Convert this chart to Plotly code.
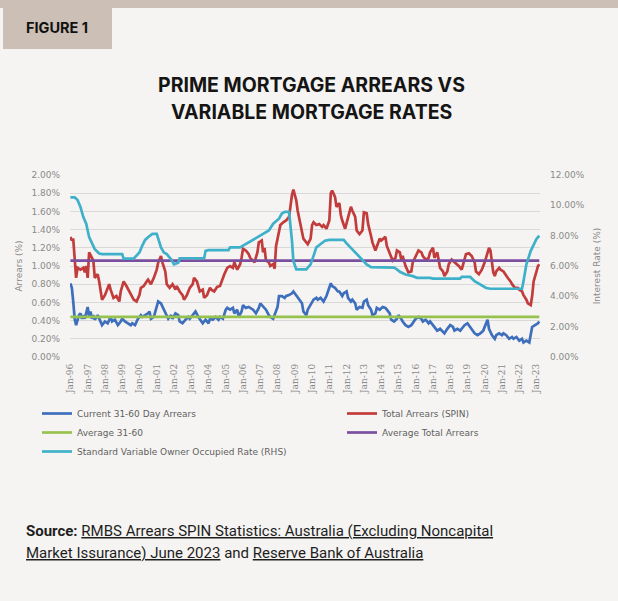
import pandas as pd
import plotly.graph_objects as go

# ---------------------------------------------------------------------------
# Data: months elapsed since January 1996, with the matching readings
# ---------------------------------------------------------------------------
current_months = [
    0, 1, 2, 3, 4, 6, 7, 8, 9, 10, 12, 13, 14, 15, 16, 17, 19, 21, 22, 24, 26, 28, 29, 31, 33,
    35, 36, 38, 40, 42, 43, 45, 47, 49, 50, 52, 54, 55, 56, 58, 60, 61, 63, 65, 67, 68, 70, 71,
    73, 75, 76, 78, 80, 82, 83, 85, 87, 89, 90, 92, 94, 96, 97, 99, 101, 103, 104, 106, 108,
    109, 111, 113, 114, 116, 117, 119, 120, 122, 124, 125, 127, 129, 131, 132, 134, 136, 138,
    139, 141, 142, 144, 145, 147, 149, 150, 152, 154, 155, 157, 159, 161, 162, 164, 165, 167,
    169, 171, 172, 174, 176, 178, 179, 181, 182, 184, 186, 187, 189, 190, 192, 193, 195, 196,
    198, 199, 201, 203, 204, 206, 207, 209, 210, 212, 213, 215, 217, 219,
    220, 222, 223, 225, 227, 228, 230, 231, 233, 235, 237, 238, 240, 242, 244, 245, 247, 249,
    250, 252, 253, 255, 257, 259, 260, 262, 264, 266, 267, 269, 271, 273, 274, 276, 278, 280,
    281, 283, 285, 287, 288, 290, 291, 293, 295, 296, 298, 300, 301, 303, 305, 307, 308, 310,
    312, 314, 315, 317, 319, 320, 321, 323, 325, 326,
]
current_arrears = [
    0.81, 0.76, 0.61, 0.42, 0.35, 0.46, 0.48, 0.42, 0.46, 0.42, 0.55, 0.44, 0.50, 0.42, 0.46,
    0.41, 0.46, 0.39, 0.35, 0.39, 0.37, 0.44, 0.39, 0.41, 0.35, 0.39, 0.42, 0.39, 0.37, 0.35,
    0.37, 0.35, 0.42, 0.46, 0.44, 0.46, 0.48, 0.50, 0.42, 0.44, 0.55, 0.61, 0.59, 0.52, 0.44,
    0.42, 0.46, 0.42, 0.48, 0.46, 0.39, 0.37, 0.41, 0.44, 0.42, 0.46, 0.50, 0.44, 0.42, 0.37,
    0.41, 0.37, 0.42, 0.41, 0.44, 0.41, 0.44, 0.42, 0.52,
    0.54, 0.52, 0.54, 0.48, 0.52, 0.44, 0.50, 0.57, 0.54, 0.55, 0.54, 0.52, 0.48, 0.54, 0.59,
    0.55, 0.52, 0.46, 0.44, 0.42, 0.46, 0.55, 0.67, 0.67, 0.65, 0.67, 0.68, 0.70, 0.72, 0.68,
    0.63, 0.59, 0.50, 0.46, 0.52, 0.57, 0.63, 0.65, 0.63, 0.65, 0.61, 0.67, 0.72, 0.81, 0.78,
    0.76, 0.72, 0.72, 0.67, 0.70, 0.72, 0.65, 0.61, 0.63, 0.59, 0.52, 0.55, 0.54, 0.61, 0.63,
    0.57, 0.52, 0.46, 0.48, 0.54, 0.52, 0.55, 0.54,
    0.52, 0.48, 0.41, 0.39, 0.42, 0.46, 0.42, 0.39, 0.35, 0.33, 0.35, 0.37, 0.42, 0.44, 0.42,
    0.39, 0.41, 0.37, 0.39, 0.35, 0.33, 0.29, 0.31, 0.28, 0.26, 0.31, 0.35, 0.33, 0.29, 0.31,
    0.29, 0.33, 0.35, 0.37, 0.33, 0.28, 0.26, 0.24, 0.26, 0.29, 0.33, 0.41, 0.31, 0.24, 0.20,
    0.24, 0.26, 0.24, 0.26, 0.24, 0.20, 0.22, 0.20, 0.22, 0.18, 0.20, 0.16, 0.18, 0.16, 0.24,
    0.33, 0.35, 0.37, 0.39,
]

total_months = [
    0, 1, 2, 3, 4, 5, 7, 9, 10, 11, 12, 13, 15, 16, 17, 19, 20, 21, 22, 24, 25, 27, 28, 30, 32,
    34, 35, 37, 39, 41, 42, 44, 46, 48, 49, 51, 53, 54, 56, 58, 60, 61, 63, 64, 66, 67, 69, 71,
    73, 74, 76, 78, 79, 81, 83, 85, 86, 88, 90, 92, 93, 95, 97, 98, 100, 102, 104, 105, 107, 109,
    111, 113, 114, 116, 118, 119, 120, 122, 124, 125, 127, 128, 130, 131, 133, 134, 135, 136,
    138, 139, 141, 142, 143, 145, 146, 148, 150, 152, 153, 154, 155, 157, 158, 160, 162, 164,
    165, 167, 168, 169, 171, 173, 175, 176, 178, 180, 181, 182, 184, 185, 187, 188, 189, 191,
    192, 193, 195, 196, 198, 199, 201, 203, 204, 206, 207, 209, 210, 212, 213, 215, 216, 218,
    219, 220, 222, 224, 226, 227, 229, 230, 231, 233, 235, 237, 238, 240, 242, 244, 245, 247,
    249, 250, 252, 253, 255, 256, 257, 259, 260, 262, 263, 265, 267, 269, 270, 272, 274, 275,
    277, 279, 281, 282, 284, 286, 288, 289, 291, 292, 293, 294, 295, 296, 298, 299, 301, 303,
    304, 306, 307, 309, 311, 312, 314, 315, 317, 318, 320, 321, 322, 324, 325, 326,
]
total_arrears = [
    1.32, 1.28, 1.30, 1.09, 0.87, 0.98, 0.96, 0.98, 0.93, 1.00, 0.87, 1.15, 1.09, 1.06, 0.87,
    0.91, 0.83, 0.72, 0.63, 0.68, 0.72, 0.80, 0.74, 0.65, 0.67, 0.61, 0.72, 0.83, 0.78, 0.72,
    0.68, 0.63, 0.61, 0.68, 0.76, 0.78, 0.83, 0.85, 0.80, 0.87, 0.96, 1.04, 1.11, 1.04, 0.94,
    0.80, 0.76, 0.80, 0.74, 0.78, 0.72, 0.68, 0.63, 0.68, 0.76, 0.80, 0.87, 0.83, 0.72, 0.74,
    0.65, 0.68, 0.76, 0.74, 0.72, 0.77, 0.78, 0.83, 0.91, 0.98,
    1.00, 0.98, 1.04, 0.96, 1.02, 1.09, 1.19, 1.17, 1.13, 1.09, 1.06, 1.04, 1.15, 1.26, 1.28,
    1.15, 1.20, 1.06, 1.04, 1.00, 1.02, 0.97, 1.22, 1.39, 1.45, 1.48, 1.50, 1.54, 1.67, 1.78,
    1.84, 1.72, 1.61, 1.45, 1.30, 1.26, 1.24, 1.30, 1.45, 1.48, 1.45, 1.46, 1.43, 1.45, 1.41,
    1.50, 1.80, 1.83, 1.76, 1.65, 1.69, 1.56, 1.50, 1.41, 1.48, 1.54, 1.65, 1.61, 1.54, 1.39,
    1.35, 1.39, 1.59, 1.58, 1.46, 1.33, 1.26, 1.17, 1.22, 1.30, 1.28, 1.30,
    1.32, 1.22, 1.15, 1.06, 1.09, 1.17, 1.15, 1.07, 1.11, 1.00, 0.93, 0.94, 1.04, 1.11, 1.17,
    1.15, 1.11, 1.07, 1.09, 1.15, 1.20, 1.09, 1.15, 1.07, 0.98, 0.94, 0.89, 0.94, 1.02, 1.07,
    1.04, 1.02, 1.00, 0.96, 1.06, 1.13, 1.14, 1.11, 1.04, 0.94, 0.91, 0.96, 1.04, 1.09, 1.20,
    1.17, 1.02, 0.93, 0.89, 0.94, 0.98, 0.96, 0.94, 0.89, 0.87, 0.83, 0.80, 0.76, 0.76, 0.74,
    0.72, 0.68, 0.63, 0.59, 0.57, 0.67, 0.83, 0.94, 1.00, 1.02,
]

# Average lines (%)
average_31_60 = 0.44
average_total = 1.06

svr_months = [
    0, 3, 5, 7, 9, 11, 13, 15, 17, 20, 22, 36, 37, 44, 45, 48, 50, 52, 54, 57, 60, 61, 63, 65,
    67, 70, 72, 75, 76, 93, 94, 96, 110, 111, 118, 120, 124, 127, 131, 134, 138, 141, 145, 147,
    149, 152, 153, 154, 155, 157, 164, 167, 169, 171, 174, 177, 180, 190, 192, 196, 199, 203,
    206, 209, 219, 225, 227, 229, 233, 236, 238, 241, 250, 252, 271, 272, 278, 281, 285, 289,
    292, 314, 315, 317, 320, 322, 324, 326,
]
svr_rate = [
    10.53, 10.53, 10.35, 9.90, 9.23, 8.79, 7.90, 7.45, 7.11, 6.82, 6.78, 6.78, 6.49, 6.49, 6.60,
    6.89, 7.34, 7.72, 7.90, 8.12, 8.12, 7.78, 7.23, 6.89, 6.78, 6.44, 6.11, 6.22, 6.51, 6.51,
    7.00, 7.05, 7.05, 7.23, 7.23, 7.34, 7.56, 7.78, 8.00, 8.16, 8.34, 8.79, 9.12, 9.46, 9.57,
    9.57, 8.79, 7.67, 6.33, 5.78, 5.78, 6.11, 6.67, 7.23, 7.45, 7.67, 7.72, 7.72, 7.49, 7.11,
    6.78, 6.44, 6.11, 5.93, 5.93, 5.89, 5.78, 5.62, 5.44, 5.40, 5.33, 5.22, 5.22, 5.17, 5.17,
    5.28, 5.28, 5.00, 4.77, 4.55, 4.50, 4.50, 5.00, 6.11, 7.00, 7.34, 7.78, 8.00,
]

arrears_ticks = [0, 0.2, 0.4, 0.6, 0.8, 1.0, 1.2, 1.4, 1.6, 1.8, 2.0]
rate_ticks = [0, 2, 4, 6, 8, 10, 12]


def to_dates(months):
    return [pd.Timestamp(1996 + m // 12, m % 12 + 1, 1) for m in months]


def pct_labels(values):
    return [f"{v:.2f}%" for v in values]


first_month = min(current_months + total_months + svr_months)
last_month = max(current_months + total_months + svr_months)
span_dates = to_dates([first_month, last_month])

# ---------------------------------------------------------------------------
# Styling
# ---------------------------------------------------------------------------
W, H = 618, 601
M_L, M_R, M_T, M_B = 70, 78, 175, 244
PLOT_W = W - M_L - M_R
PLOT_H = H - M_T - M_B

BG = "#f5f4f2"
TAN = "#cbbfb6"
GRID = "#d9d9d9"
TICK = "#8a8a8a"
LEGEND_TXT = "#5f5f5f"

BLUE = "#3d6fbd"
RED = "#c13c3b"
GREEN = "#98c24f"
PURPLE = "#7a4f9f"
CYAN = "#3fb0c9"
LW = 2.7


def px_x(px):
    return (px - M_L) / PLOT_W


def px_y(py):
    return (H - M_B - py) / PLOT_H


fig = go.Figure()

# Cyan first so the arrears series sit above it in the legend's right column order
fig.add_trace(go.Scatter(
    x=to_dates(current_months), y=current_arrears, mode="lines",
    name="Current 31-60 Day Arrears", line=dict(color=BLUE, width=LW),
    legend="legend", legendgroup="g1",
))
fig.add_trace(go.Scatter(
    x=to_dates(total_months), y=total_arrears, mode="lines",
    name="Total Arrears (SPIN)", line=dict(color=RED, width=LW),
    legend="legend2", legendgroup="g2",
))
fig.add_trace(go.Scatter(
    x=span_dates, y=[average_31_60, average_31_60], mode="lines",
    name="Average 31-60", line=dict(color=GREEN, width=LW),
    legend="legend", legendgroup="g3",
))
fig.add_trace(go.Scatter(
    x=span_dates, y=[average_total, average_total], mode="lines",
    name="Average Total Arrears", line=dict(color=PURPLE, width=LW),
    legend="legend2", legendgroup="g4",
))
fig.add_trace(go.Scatter(
    x=to_dates(svr_months), y=svr_rate, mode="lines", yaxis="y2",
    name="Standard Variable Owner Occupied Rate (RHS)", line=dict(color=CYAN, width=LW),
    legend="legend", legendgroup="g5",
))

tick_font = dict(family="DejaVu Sans", size=9, color=TICK)
legend_style = dict(
    orientation="v", xanchor="left", yanchor="top",
    font=dict(family="DejaVu Sans", size=9, color=LEGEND_TXT),
    itemwidth=30, bgcolor="rgba(0,0,0,0)", traceorder="normal", tracegroupgap=2,
)

fig.update_layout(
    width=W, height=H,
    margin=dict(l=M_L, r=M_R, t=M_T, b=M_B, autoexpand=False),
    paper_bgcolor=BG, plot_bgcolor=BG,
    showlegend=True,
    legend=dict(x=px_x(37), y=px_y(399), **legend_style),
    legend2=dict(x=px_x(342), y=px_y(399), **legend_style),
    xaxis=dict(
        type="date",
        range=[pd.Timestamp("1995-12-24"), pd.Timestamp("2023-03-16")],
        tick0="1996-01-01", dtick="M12", tickformat="%b-%y", tickangle=-90,
        tickfont=dict(family="DejaVu Serif", size=9, color=TICK),
        showgrid=False, zeroline=False, showline=False, ticks="",
        ticklabelstandoff=4, automargin=False,
    ),
    yaxis=dict(
        range=[0, 2.0], tickvals=arrears_ticks, ticktext=pct_labels(arrears_ticks),
        tickfont=tick_font, showgrid=True, gridcolor=GRID, gridwidth=1,
        zeroline=False, showline=False, ticks="", ticklabelstandoff=9, automargin=False,
        title=dict(text="Arrears (%)", font=dict(family="DejaVu Sans", size=9, color=TICK),
                   standoff=7),
    ),
    yaxis2=dict(
        range=[0, 12], tickvals=rate_ticks, ticktext=pct_labels(rate_ticks),
        overlaying="y", side="right",
        tickfont=tick_font, showgrid=False, zeroline=False, showline=False,
        ticks="", ticklabelstandoff=9, automargin=False,
        title=dict(text="Interest Rate (%)", font=dict(family="DejaVu Sans", size=9, color=TICK),
                   standoff=9),
    ),
)

# Header band and figure tab
fig.add_shape(type="rect", xref="paper", yref="paper",
              x0=px_x(0), x1=px_x(W), y0=px_y(0), y1=px_y(8),
              fillcolor=TAN, line_width=0, layer="below")
fig.add_shape(type="rect", xref="paper", yref="paper",
              x0=px_x(3), x1=px_x(112), y0=px_y(0), y1=px_y(49),
              fillcolor=TAN, line_width=0, layer="below")

UL = "<span style='text-decoration:underline'>{}</span>"
annotations = [
    dict(text="<b>FIGURE 1</b>", x=px_x(57), y=px_y(27),
         font=dict(family="Inter", size=14.5, color="#111111")),
    dict(text="<b>PRIME MORTGAGE ARREARS VS</b>", x=px_x(311), y=px_y(85),
         font=dict(family="Inter", size=19.5, color="#151515")),
    dict(text="<b>VARIABLE MORTGAGE RATES</b>", x=px_x(311), y=px_y(112),
         font=dict(family="Inter", size=19.5, color="#151515")),
    dict(text="<b>Source:</b> " + UL.format(
             "RMBS Arrears SPIN Statistics: Australia (Excluding Noncapital"),
         x=px_x(24), y=px_y(531), xanchor="left",
         font=dict(family="Roboto", size=15, color="#1e1e1e")),
    dict(text=UL.format("Market Issurance) June 2023") + " and "
         + UL.format("Reserve Bank of Australia"),
         x=px_x(24), y=px_y(553), xanchor="left",
         font=dict(family="Roboto", size=15, color="#1e1e1e")),
]
for a in annotations:
    a.setdefault("xanchor", "center")
    fig.add_annotation(xref="paper", yref="paper", yanchor="middle", showarrow=False, **a)

fig.write_html("out.html")
